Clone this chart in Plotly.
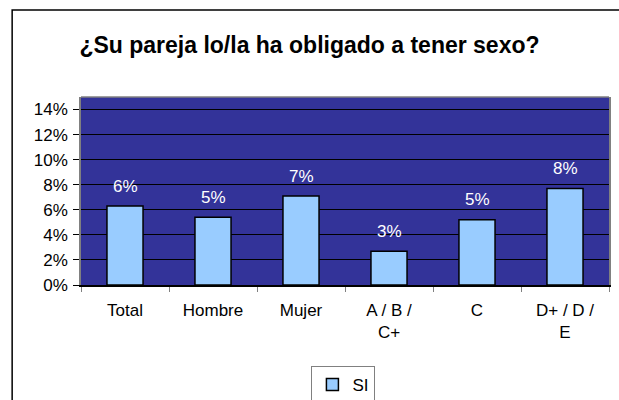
import plotly.graph_objects as go

categories = ["Total", "Hombre", "Mujer", "A / B /<br>C+", "C", "D+ / D /<br>E"]
si_values = [0.063, 0.054, 0.071, 0.027, 0.052, 0.077]
series_name = "SI"
title_text = "¿Su pareja lo/la ha obligado a tener sexo?"

FONT = "Liberation Sans, Arial, sans-serif"

fig = go.Figure()
fig.add_trace(go.Bar(
    x=categories, y=si_values, name=series_name,
    marker=dict(color="#99CCFF", line=dict(color="#000000", width=1.5)),
    showlegend=True,
))

for c, v in zip(categories, si_values):
    fig.add_annotation(x=c, y=v, text=f"{round(v*100)}%", showarrow=False,
                       yshift=20, font=dict(family=FONT, size=17, color="#FFFFFF"))

# outer chart border
fig.add_shape(type="rect", xref="paper", yref="paper",
              x0=-0.1304, x1=1.03, y0=-0.7, y1=1.4628,
              line=dict(color="#000000", width=1.5))
# top edge of plot area
fig.add_shape(type="line", xref="paper", yref="paper",
              x0=0, x1=1, y0=1, y1=1, line=dict(color="#808080", width=1.5))

fig.update_layout(
    width=619, height=400,
    margin=dict(l=81, r=10, t=97, b=115, autoexpand=False),
    paper_bgcolor="#FFFFFF", plot_bgcolor="#333399",
    font=dict(family=FONT, size=17, color="#000000"),
    title=dict(text="<b>" + title_text + "</b>", x=0.5, xanchor="center",
               y=1 - 45/400, yanchor="middle", yref="container",
               font=dict(family=FONT, size=23, color="#000000")),
    bargap=0.59,
    showlegend=True,
    legend=dict(orientation="h", x=0.497, xanchor="center",
                y=1 - 366/400, yanchor="top", yref="container",
                bordercolor="#808080", borderwidth=1, bgcolor="#FFFFFF",
                font=dict(family=FONT, size=17, color="#000000"),
                itemwidth=30),
)
fig.update_xaxes(showgrid=False, showline=True, linecolor="#000000", linewidth=1.5,
                 ticks="outside", tickson="boundaries", ticklen=5, tickcolor="#808080",
                 ticklabelstandoff=9,
                 tickfont=dict(family=FONT, size=17, color="#000000"))
fig.update_yaxes(range=[0, 0.15], dtick=0.02, tickformat=".0%",
                 showgrid=True, gridcolor="#000000", gridwidth=1,
                 showline=True, linecolor="#808080", linewidth=1.5, mirror=True,
                 ticks="outside", ticklen=6, tickcolor="#000000", zeroline=False,
                 ticklabelstandoff=2,
                 tickfont=dict(family=FONT, size=17, color="#000000"))

fig.write_html("out.html", config={"displayModeBar": False},
               post_script="document.body.style.margin='0';document.body.style.overflow='hidden';")
